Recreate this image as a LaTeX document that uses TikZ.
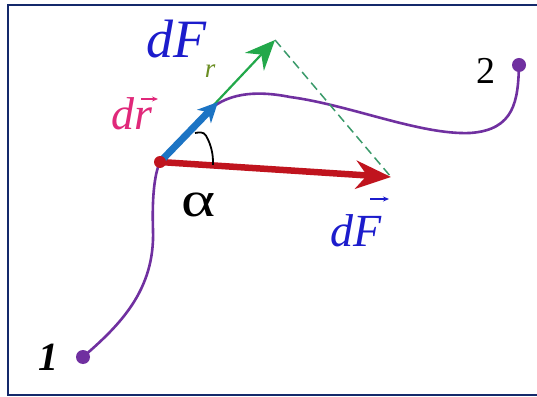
\documentclass[tikz,border=0pt]{standalone}
\usepackage{fontspec}
\setmainfont{Liberation Serif}
\usetikzlibrary{arrows.meta}
\definecolor{framec}{HTML}{14296B}
\definecolor{curvec}{HTML}{7030A0}
\definecolor{redc}{HTML}{C0141E}
\definecolor{bluec}{HTML}{1C74C4}
\definecolor{greenc}{HTML}{22A84A}
\definecolor{dashc}{HTML}{3A9A6A}
\definecolor{labblue}{HTML}{1C1CCC}
\definecolor{pinkc}{HTML}{E0287A}
\definecolor{subgreen}{HTML}{6B8E23}
\begin{document}
\begin{tikzpicture}[x=1pt,y=1pt,
  lab/.style={inner sep=0pt,anchor=base},
  dot/.style={circle,fill=curvec,minimum size=14pt,inner sep=0pt},
  vecarrow/.style={line width=1.3pt,-{Stealth[length=6pt,width=5pt]}}]
\useasboundingbox (0,0) rectangle (537,396);
\fill[white] (0,0) rectangle (537,396);
\draw[framec,line width=2pt] (537,391) -- (7.7,391) -- (7.7,1) -- (537,1);
\coordinate (O) at (160,234);
\coordinate (R) at (391,219);
\coordinate (B) at (218,294);
\coordinate (G) at (275,356);
\node[dot] (P1) at (83,39) {};
\node[dot] (P2) at (519,331) {};
% path
\draw[curvec,line width=2.6pt] (P1.center) .. controls (120,71) and (155,106) .. (153,166)
  .. controls (152,196) and (154,221) .. (O) -- (205,282)
  .. controls (225,303) and (255,306) .. (290,299)
  .. controls (350,291) and (420,261) .. (470,263)
  .. controls (515,266) and (518,296) .. (P2.center);
% vectors
\draw[greenc,line width=2.2pt,-{Stealth[length=30pt,width=26pt,inset=10pt]}] (O) -- (G);
\draw[dashc,line width=1.5pt,dash pattern=on 9pt off 5pt] (G) -- (R);
\draw[redc,line width=6.5pt,-{Stealth[length=35pt,width=28pt,inset=11pt]}] (O) -- (R);
\draw[bluec,line width=7pt,-{Stealth[length=20pt,width=19pt,inset=6pt]}] (O) -- (B);
\fill[redc] (O) circle (6pt);
% angle
\draw[black,line width=1.8pt] (O) ++(-3:53pt) arc[start angle=-3,end angle=30,radius=53pt]
  to[out=120,in=10] (195,263);
% labels
\node[lab,labblue,font=\fontsize{54}{54}\selectfont\itshape] (dFr) at (176,338) {dF};
\node[lab,subgreen,font=\fontsize{27}{27}\selectfont\itshape] (rsub) at (210,318) {r};
\node[lab,pinkc,font=\fontsize{46}{46}\selectfont\itshape] (dr) at (132,266) {dr};
\coordinate (drA) at (141,297);
\coordinate (drB) at (158,297);
\draw[pinkc,vecarrow] (drA) -- (drB);
\node[lab,labblue,font=\fontsize{46}{46}\selectfont\itshape] (dF) at (356,149) {dF};
\coordinate (dFA) at (370,197);
\coordinate (dFB) at (389,197);
\draw[labblue,vecarrow] (dFA) -- (dFB);
\node[lab,font=\fontsize{50}{50}\selectfont] (alpha) at (199,179) {\scalebox{1.3}[1]{α}};
\node[lab,font=\fontsize{38}{38}\selectfont] (two) at (486,312) {2};
\node[lab,font=\fontsize{40}{40}\selectfont\bfseries\itshape] (one) at (48,26) {1};
\end{tikzpicture}
\end{document}
